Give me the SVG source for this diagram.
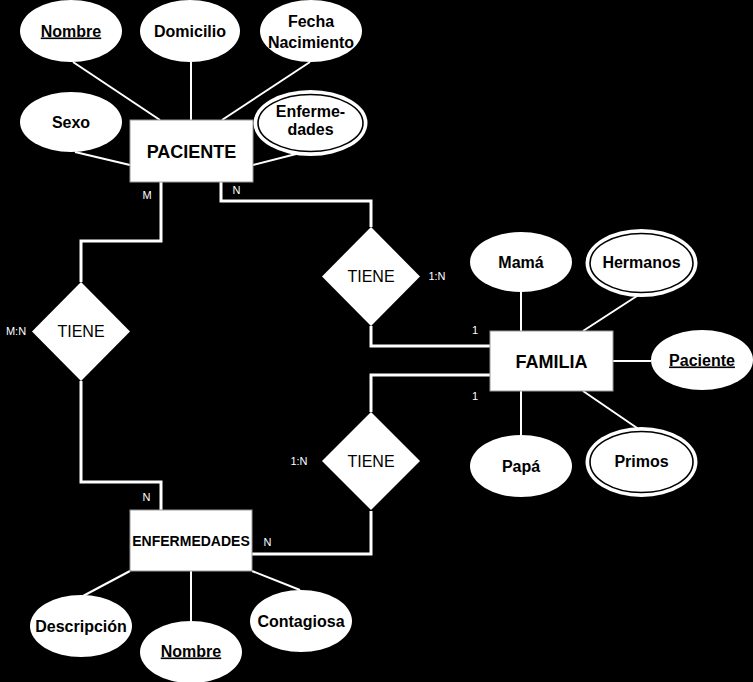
<svg xmlns="http://www.w3.org/2000/svg" width="753" height="682" viewBox="0 0 753 682">
<style>
text{font-family:"Liberation Sans",Arial,sans-serif;fill:#000;text-anchor:middle}
.b{font-weight:bold;font-size:16px}
.u{text-decoration:underline}
.ent{fill:#fff;stroke:#9a9a9a;stroke-width:1}
.attr{fill:#fff;stroke:none}
.inner{fill:none;stroke:#000;stroke-width:1.6}
.rel{fill:#fff;stroke:none}
.conn{fill:none;stroke:#fff;stroke-width:3}
.al{stroke:#fff;stroke-width:2}
.lbl{fill:#fff;font-size:11px}
.rt{font-size:16px}
</style>
<rect x="0" y="0" width="753" height="682" fill="#000"/>
<g id="connectors">
<path class="conn" d="M161 182V241H81V282"/>
<path class="conn" d="M221 182V201H371V227"/>
<path class="conn" d="M371 326V346H490"/>
<path class="conn" d="M81 381V482H161V510"/>
<path class="conn" d="M252 554H371V511"/>
<path class="conn" d="M371 412V375H490"/>
<line class="al" x1="73" y1="62" x2="160" y2="120"/>
<line class="al" x1="191" y1="62" x2="191" y2="120"/>
<line class="al" x1="310" y1="62" x2="222" y2="120"/>
<line class="al" x1="75" y1="152" x2="130" y2="165"/>
<line class="al" x1="300" y1="153" x2="253" y2="165"/>
<line class="al" x1="521" y1="292" x2="521" y2="331"/>
<line class="al" x1="640" y1="294" x2="583" y2="331"/>
<line class="al" x1="613" y1="361" x2="651" y2="361"/>
<line class="al" x1="521" y1="391" x2="521" y2="436"/>
<line class="al" x1="583" y1="391" x2="640" y2="430"/>
<line class="al" x1="130" y1="571" x2="83" y2="596"/>
<line class="al" x1="191" y1="571" x2="191" y2="621"/>
<line class="al" x1="252" y1="571" x2="300" y2="590"/>
<text class="lbl" x="147" y="199">M</text>
<text class="lbl" x="236.5" y="194">N</text>
<text class="lbl" x="437" y="280">1:N</text>
<text class="lbl" x="16" y="335">M:N</text>
<text class="lbl" x="475" y="334">1</text>
<text class="lbl" x="475" y="400">1</text>
<text class="lbl" x="299" y="465">1:N</text>
<text class="lbl" x="146.5" y="501">N</text>
<text class="lbl" x="267.5" y="546">N</text>
</g>
<g id="paciente"><rect class="ent" x="130" y="120" width="123" height="62"/><text x="191.5" y="157.5" style="font-weight:bold;font-size:18px">PACIENTE</text></g>
<g id="familia"><rect class="ent" x="490" y="331" width="123" height="60"/><text x="551.5" y="367.5" style="font-weight:bold;font-size:18px">FAMILIA</text></g>
<g id="enfermedades"><rect class="ent" x="130" y="510" width="122" height="61"/><text x="191" y="546" style="font-weight:bold;font-size:14px">ENFERMEDADES</text></g>
<g id="p-nombre"><ellipse class="attr" cx="71" cy="31" rx="51" ry="31"/><text class="b u" x="71" y="36.5">Nombre</text></g>
<g id="p-domicilio"><ellipse class="attr" cx="190" cy="31" rx="50" ry="31"/><text class="b" x="190" y="36.5">Domicilio</text></g>
<g id="p-fecha"><ellipse class="attr" cx="311" cy="31" rx="51" ry="31"/><text class="b" x="311" y="26.5">Fecha</text><text class="b" x="311" y="47.5">Nacimiento</text></g>
<g id="p-sexo"><ellipse class="attr" cx="71" cy="122" rx="51" ry="30"/><text class="b" x="71" y="127.5">Sexo</text></g>
<g id="p-enfermedades"><ellipse class="attr" cx="310.5" cy="123" rx="57" ry="33"/><ellipse class="inner" cx="310.5" cy="123" rx="52.5" ry="28.5"/><text class="b" x="310.5" y="117">Enferme-</text><text class="b" x="310.5" y="135">dades</text></g>
<g id="f-mama"><ellipse class="attr" cx="521" cy="262" rx="51" ry="30"/><text class="b" x="521" y="267.5">Mamá</text></g>
<g id="f-hermanos"><ellipse class="attr" cx="641.5" cy="263" rx="56" ry="34"/><ellipse class="inner" cx="641.5" cy="263" rx="51.5" ry="29.5"/><text class="b" x="641.5" y="267.5">Hermanos</text></g>
<g id="f-paciente"><ellipse class="attr" cx="702" cy="360" rx="51" ry="30"/><text class="b u" x="702" y="365.5">Paciente</text></g>
<g id="f-papa"><ellipse class="attr" cx="521" cy="466" rx="51" ry="31"/><text class="b" x="521" y="471.5">Papá</text></g>
<g id="f-primos"><ellipse class="attr" cx="641.5" cy="462" rx="56" ry="35"/><ellipse class="inner" cx="641.5" cy="462" rx="51.5" ry="30.5"/><text class="b" x="641.5" y="466.5">Primos</text></g>
<g id="e-descripcion"><ellipse class="attr" cx="81" cy="626" rx="51" ry="31"/><text class="b" x="81" y="632">Descripción</text></g>
<g id="e-nombre"><ellipse class="attr" cx="191" cy="652" rx="51" ry="31"/><text class="b u" x="191" y="656.5">Nombre</text></g>
<g id="e-contagiosa"><ellipse class="attr" cx="301" cy="621" rx="51" ry="31"/><text class="b" x="301" y="627">Contagiosa</text></g>
<g id="tiene1"><polygon class="rel" points="371,227 420,276.5 371,326 322,276.5"/><text class="rt" x="371" y="282">TIENE</text></g>
<g id="tiene2"><polygon class="rel" points="81,282 130,331.5 81,381 32,331.5"/><text class="rt" x="81" y="337">TIENE</text></g>
<g id="tiene3"><polygon class="rel" points="371,412 420,461 371,510 322,461"/><text class="rt" x="371" y="467">TIENE</text></g>
</svg>
